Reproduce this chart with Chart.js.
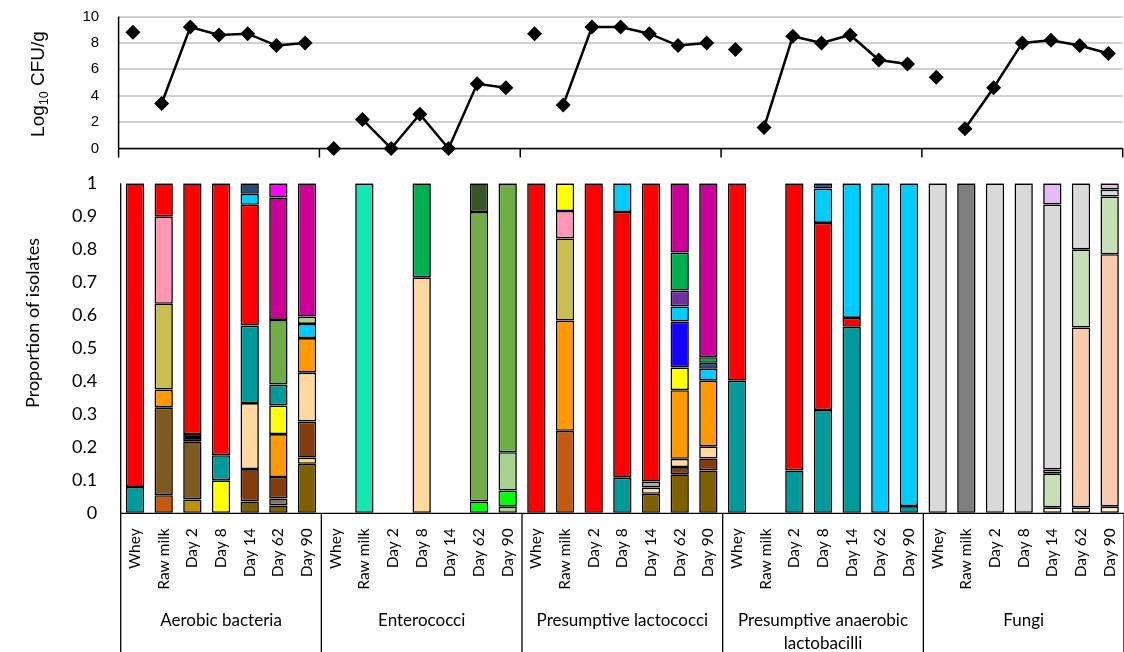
<!DOCTYPE html>
<html><head><meta charset="utf-8">
<script src="https://cdn.jsdelivr.net/npm/chart.js@4.4.1/dist/chart.umd.min.js"></script>
<style>
html,body{margin:0;padding:0;background:#fff;}
#wrap{position:relative;width:1124px;height:652px;overflow:hidden;background:#fff;}
#topc{position:absolute;left:0;top:0;width:1124px;height:165px;}
#botc{position:absolute;left:0;top:165px;width:1124px;height:487px;}
</style></head><body>
<div id="wrap"><canvas id="topc" width="1124" height="165"></canvas><canvas id="botc" width="1124" height="487"></canvas></div>
<script>
// ---------- categories ----------
const groupNames = ['Aerobic bacteria', 'Enterococci', 'Presumptive lactococci', 'Presumptive anaerobic lactobacilli', 'Fungi'];
const groupLines = [['Aerobic bacteria'], ['Enterococci'], ['Presumptive lactococci'], ['Presumptive anaerobic', 'lactobacilli'], ['Fungi']];
const sampleLabels = ['Whey', 'Raw milk', 'Day 2', 'Day 8', 'Day 14', 'Day 62', 'Day 90'];

// ---------- counts (Log10 CFU/g) ----------
const cfuAerobic     = [8.8, 3.4, 9.2, 8.6, 8.7, 7.8, 8.0];
const cfuEnterococci = [0, 2.2, 0, 2.6, 0, 4.9, 4.6];
const cfuLactococci  = [8.7, 3.3, 9.2, 9.2, 8.7, 7.8, 8.0];
const cfuLactobacilli= [7.5, 1.6, 8.5, 8.0, 8.6, 6.7, 6.4];
const cfuFungi       = [5.4, 1.5, 4.6, 8.0, 8.2, 7.8, 7.2];

// ---------- y tick labels ----------
const topTicks = [0, 2, 4, 6, 8, 10];
const botTicks = [0, 0.1, 0.2, 0.3, 0.4, 0.5, 0.6, 0.7, 0.8, 0.9, 1];

// ---------- isolate composition: taxa (bottom -> top) and proportions ----------
const aerobicTaxa = [
  ['t02','t01'],
  ['t03','t04','t05','t06','t07','t01'],
  ['t08','t04','t09','t01'],
  ['t10','t02','t01'],
  ['t11','t12','t13','t02','t01','t14','t15'],
  ['t11','t16','t12','t05','t10','t02','t17','t18','t19'],
  ['t11','t20','t12','t13','t05','t14','t21','t18']
];
const aerobicProp = [
  [0.08,0.92],
  [0.055,0.265,0.055,0.26,0.265,0.10],
  [0.042,0.176,0.022,0.76],
  [0.10,0.076,0.824],
  [0.036,0.098,0.20,0.235,0.366,0.033,0.032],
  [0.024,0.021,0.065,0.13,0.087,0.063,0.196,0.371,0.043],
  [0.15,0.019,0.109,0.148,0.105,0.043,0.022,0.404]
];
const enteroTaxa = [
  [], ['t22'], [], ['t13','t23'], [], ['t24','t17','t25'], ['t21','t24','t21','t17']
];
const enteroProp = [
  [], [1], [], [0.715,0.285], [], [0.036,0.877,0.087], [0.02,0.049,0.116,0.815]
];
const lactococciTaxa = [
  ['t01'],
  ['t03','t05','t06','t07','t10'],
  ['t01'],
  ['t02','t01','t14'],
  ['t11','t13','t26','t01'],
  ['t11','t12','t13','t05','t10','t27','t14','t28','t23','t18'],
  ['t11','t12','t13','t05','t14','t15','t23','t18']
];
const lactococciProp = [
  [1],
  [0.25,0.334,0.249,0.083,0.084],
  [1],
  [0.108,0.805,0.087],
  [0.059,0.019,0.018,0.904],
  [0.118,0.022,0.025,0.208,0.069,0.139,0.046,0.048,0.115,0.21],
  [0.13,0.036,0.037,0.199,0.036,0.018,0.017,0.527]
];
const lactobacilliTaxa = [
  ['t02','t01'], [], ['t02','t01'], ['t02','t01','t14','t29'], ['t02','t01','t14'], ['t14'], ['t02','t14']
];
const lactobacilliProp = [
  [0.402,0.598], [], [0.13,0.87], [0.313,0.567,0.104,0.016], [0.565,0.027,0.408], [1], [0.022,0.978]
];
const fungiTaxa = [
  ['t30'], ['t31'], ['t30'], ['t30'],
  ['t32','t33','t34','t30','t35'],
  ['t32','t36','t33','t30'],
  ['t32','t36','t33','t30','t35']
];
const fungiProp = [
  [1], [1], [1], [1],
  [0.018,0.102,0.013,0.803,0.064],
  [0.018,0.545,0.237,0.20],
  [0.02,0.765,0.175,0.021,0.019]
];

// ---------- styles ----------
const taxonColors = {
  t01:'#ff0000', t02:'#009a9a', t03:'#c55a11', t04:'#7f5a1f', t05:'#ff9900', t06:'#c9bf50',
  t07:'#ff96b4', t08:'#bf9000', t09:'#000000', t10:'#ffff00', t11:'#7f6000', t12:'#843c0c',
  t13:'#ffd8a0', t14:'#00ccff', t15:'#1f4e79', t16:'#857565', t17:'#70ad47', t18:'#cc0099',
  t19:'#ff00ff', t20:'#ffd966', t21:'#a9d18e', t22:'#14e6b4', t23:'#00b050', t24:'#00ff00',
  t25:'#375623', t26:'#a6a6a6', t27:'#1400ff', t28:'#7030a0', t29:'#2f5597', t30:'#d9d9d9',
  t31:'#808080', t32:'#fff2cc', t33:'#c5e0b4', t34:'#8faadc', t35:'#e4b9f7', t36:'#f8cbad'
};

// ---------- build ----------
const nPer = sampleLabels.length;
const labels = [];
groupNames.forEach(() => sampleLabels.forEach(s => labels.push(s)));
const cfuAll = [].concat(cfuAerobic, cfuEnterococci, cfuLactococci, cfuLactobacilli, cfuFungi);
const taxaAll = [].concat(aerobicTaxa, enteroTaxa, lactococciTaxa, lactobacilliTaxa, fungiTaxa);
const propAll = [].concat(aerobicProp, enteroProp, lactococciProp, lactobacilliProp, fungiProp);
const maxLayers = Math.max(...propAll.map(p => p.length));
const barDatasets = [];
for (let k = 0; k < maxLayers; k++) {
  barDatasets.push({
    data: propAll.map(p => (k < p.length ? p[k] : null)),
    backgroundColor: taxaAll.map(t => (k < t.length ? taxonColors[t[k]] : 'rgba(0,0,0,0)')),
    borderColor: '#000',
    borderWidth: 1.6,
    borderSkipped: false,
    barPercentage: 0.64,
    categoryPercentage: 1.0
  });
}

Chart.defaults.animation = false;
Chart.defaults.color = '#000';

// ---------- top chart ----------
const TOP_LEFT = 118.6, TOP_RIGHT_PAD = 1.3;
const topDecor = {
  id: 'topDecor',
  afterDraw(chart) {
    const ctx = chart.ctx, a = chart.chartArea;
    const catW = (a.right - a.left) / labels.length;
    ctx.save();
    ctx.strokeStyle = '#000';
    ctx.lineWidth = 1.5;
    ctx.beginPath();
    ctx.moveTo(a.left, a.top); ctx.lineTo(a.left, a.bottom);
    ctx.moveTo(a.left, a.bottom); ctx.lineTo(a.right, a.bottom);
    for (let g = 0; g <= groupNames.length; g++) {
      const px = a.left + g * nPer * catW;
      ctx.moveTo(px, a.bottom); ctx.lineTo(px, a.bottom + 9);
    }
    ctx.stroke();
    // y title with subscript
    ctx.translate(43.5, 84);
    ctx.rotate(-Math.PI / 2);
    const big = '19px "Liberation Sans", Arial, sans-serif';
    const small = '12.5px "Liberation Sans", Arial, sans-serif';
    ctx.font = big; const w1 = ctx.measureText('Log').width; const w3 = ctx.measureText(' CFU/g').width;
    ctx.font = small; const w2 = ctx.measureText('10').width;
    let x0 = -(w1 + w2 + w3) / 2;
    ctx.fillStyle = '#000';
    ctx.textBaseline = 'alphabetic';
    ctx.textAlign = 'left';
    ctx.font = big; ctx.fillText('Log', x0, 0);
    ctx.font = small; ctx.fillText('10', x0 + w1, 4);
    ctx.font = big; ctx.fillText(' CFU/g', x0 + w1 + w2, 0);
    ctx.restore();
  }
};

const topChart = new Chart(document.getElementById('topc'), {
  type: 'line',
  data: {
    labels: labels,
    datasets: [{
      data: cfuAll,
      borderColor: '#000',
      borderWidth: 2.5,
      pointStyle: 'rectRot',
      pointRadius: 7.5,
      pointHoverRadius: 7.5,
      pointBackgroundColor: '#000',
      pointBorderWidth: 0,
      clip: false,
      segment: {
        borderColor: c => (c.p0DataIndex % nPer === 0 || c.p1DataIndex % nPer === 0) ? 'rgba(0,0,0,0)' : '#000'
      }
    }]
  },
  options: {
    responsive: false,
    layout: { autoPadding: false, padding: { top: 16.5, bottom: 16.5, left: 0, right: TOP_RIGHT_PAD } },
    plugins: { legend: { display: false }, tooltip: { enabled: false } },
    scales: {
      x: { type: 'category', offset: true, display: false },
      y: {
        min: 0, max: 10,
        afterFit: s => { s.width = TOP_LEFT; },
        afterBuildTicks: s => { s.ticks = topTicks.map(v => ({ value: v })); },
        ticks: { padding: 0.5, font: { family: '"Liberation Sans", Arial, sans-serif', size: 15 }, color: '#000' },
        grid: { display: true, drawOnChartArea: true, color: '#d0d0d0', lineWidth: 2, drawTicks: true, tickLength: 19, tickColor: 'rgba(0,0,0,0)' },
        border: { display: false }
      }
    }
  },
  plugins: [topDecor]
});

// ---------- bottom chart ----------
const BOT_LEFT = 120.7;
const botDecor = {
  id: 'botDecor',
  afterDraw(chart) {
    const ctx = chart.ctx, a = chart.chartArea;
    const H = chart.height;
    const catW = (a.right - a.left) / labels.length;
    ctx.save();
    ctx.strokeStyle = '#000';
    ctx.lineWidth = 1.3;
    ctx.beginPath();
    ctx.moveTo(a.left, a.top); ctx.lineTo(a.left, a.bottom);
    ctx.moveTo(a.left, a.bottom); ctx.lineTo(a.right, a.bottom);
    for (let g = 0; g <= groupNames.length; g++) {
      const px = a.left + g * nPer * catW;
      ctx.moveTo(px, a.bottom); ctx.lineTo(px, H);
    }
    ctx.stroke();
    // group labels
    ctx.fillStyle = '#000';
    ctx.font = '17px Lato, "Noto Sans", sans-serif';
    ctx.textAlign = 'center';
    ctx.textBaseline = 'middle';
    groupLines.forEach((lines, g) => {
      const cx = a.left + (g + 0.5) * nPer * catW;
      lines.forEach((t, i) => ctx.fillText(t, cx, 456 + i * 22.5));
    });
    // y title
    ctx.translate(38.5, 158);
    ctx.rotate(-Math.PI / 2);
    ctx.font = '18px Lato, "Noto Sans", sans-serif';
    ctx.textAlign = 'center';
    ctx.textBaseline = 'alphabetic';
    ctx.fillText('Proportion of isolates', 0, 0);
    ctx.restore();
  }
};

const botChart = new Chart(document.getElementById('botc'), {
  type: 'bar',
  data: { labels: labels, datasets: barDatasets },
  options: {
    responsive: false,
    layout: { autoPadding: false, padding: { top: 18.3, bottom: 0, left: 0, right: 0 } },
    plugins: { legend: { display: false }, tooltip: { enabled: false } },
    scales: {
      x: {
        stacked: true,
        afterFit: s => { s.height = 138.7; },
        grid: { display: true, drawOnChartArea: false, drawTicks: true, tickLength: 15, tickColor: 'rgba(0,0,0,0)', color: 'rgba(0,0,0,0)' },
        border: { display: false },
        ticks: {
          autoSkip: false, maxRotation: 90, minRotation: 90, padding: 0,
          font: { family: 'Lato, "Noto Sans", sans-serif', size: 15.5, lineHeight: 0.9 }, color: '#000'
        }
      },
      y: {
        stacked: true, min: 0, max: 1,
        afterFit: s => { s.width = BOT_LEFT; },
        afterBuildTicks: s => { s.ticks = botTicks.map(v => ({ value: v })); },
        grid: { display: true, drawOnChartArea: false, drawTicks: true, tickLength: 23, tickColor: 'rgba(0,0,0,0)', color: 'rgba(0,0,0,0)' },
        border: { display: false },
        ticks: {
          padding: 0.5,
          font: { family: 'Lato, "Noto Sans", sans-serif', size: 18 }, color: '#000',
          callback: v => String(Math.round(v * 10) / 10)
        }
      }
    }
  },
  plugins: [botDecor]
});
</script>
</body></html>
